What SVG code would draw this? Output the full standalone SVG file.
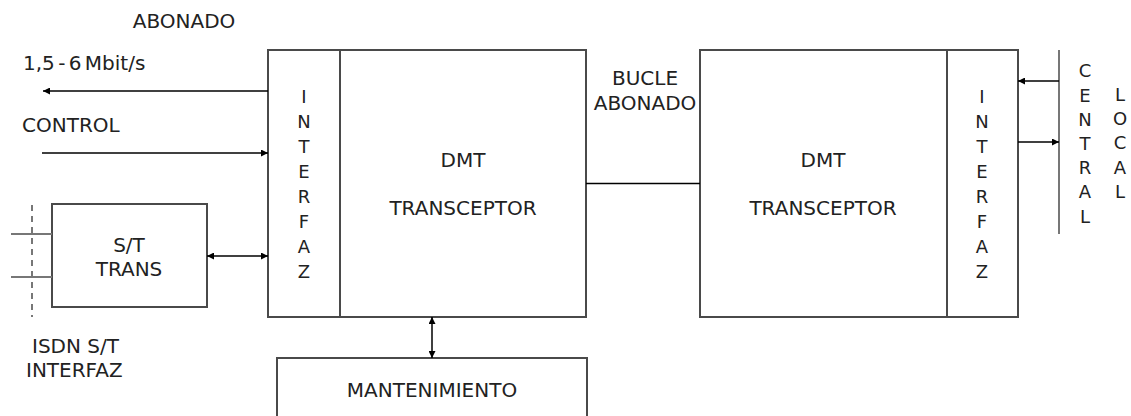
<svg xmlns="http://www.w3.org/2000/svg" width="1131" height="416" viewBox="0 0 1131 416">
<defs>
<marker id="ah" viewBox="0 0 10 10" refX="10" refY="5" markerWidth="9" markerHeight="7" markerUnits="userSpaceOnUse" orient="auto-start-reverse">
<path d="M0,0 L10,5 L0,10 z" fill="#000"/>
</marker>
<style>
text{font-family:"DejaVu Sans",Verdana,sans-serif;font-size:20px;fill:#222}
.c{text-anchor:middle}
.v{font-size:18px;text-anchor:middle}
.box{fill:#fff;stroke:#4a4a4a;stroke-width:2}
.ln{stroke:#000;stroke-width:1.5;fill:none}
.gl{stroke:#777;stroke-width:2;fill:none}
</style>
</defs>
<rect width="1131" height="416" fill="#fff"/>
<g id="labels">
<text x="184" y="28" class="c">ABONADO</text>
<text x="23" y="70" word-spacing="-3">1,5 - 6 Mbit/s</text>
<text x="22" y="132">CONTROL</text>
<text x="645" y="85" class="c">BUCLE</text>
<text x="645" y="110" class="c">ABONADO</text>
<text x="32" y="353">ISDN S/T</text>
<text x="26" y="377">INTERFAZ</text>
</g>
<g id="interfaz-left">
<rect class="box" x="268" y="50" width="72" height="267"/>
<text class="v" x="304" y="103">I</text>
<text class="v" x="304" y="128">N</text>
<text class="v" x="304" y="153">T</text>
<text class="v" x="304" y="178">E</text>
<text class="v" x="304" y="203">R</text>
<text class="v" x="304" y="228">F</text>
<text class="v" x="304" y="253">A</text>
<text class="v" x="304" y="278">Z</text>
</g>
<g id="dmt-left">
<rect class="box" x="340" y="50" width="246" height="267"/>
<text x="463" y="167" class="c">DMT</text>
<text x="463" y="215" class="c">TRANSCEPTOR</text>
</g>
<g id="dmt-right">
<rect class="box" x="700" y="50" width="247" height="267"/>
<text x="823" y="167" class="c">DMT</text>
<text x="823" y="215" class="c">TRANSCEPTOR</text>
</g>
<g id="interfaz-right">
<rect class="box" x="947" y="50" width="71" height="267"/>
<text class="v" x="982" y="103">I</text>
<text class="v" x="982" y="128">N</text>
<text class="v" x="982" y="153">T</text>
<text class="v" x="982" y="178">E</text>
<text class="v" x="982" y="203">R</text>
<text class="v" x="982" y="228">F</text>
<text class="v" x="982" y="253">A</text>
<text class="v" x="982" y="278">Z</text>
</g>
<g id="st-trans">
<rect class="box" x="52" y="204" width="155" height="103"/>
<text x="129" y="252" class="c">S/T</text>
<text x="129" y="276" class="c">TRANS</text>
</g>
<g id="mantenimiento">
<rect class="box" x="277" y="358" width="310" height="70"/>
<text x="432" y="397" class="c">MANTENIMIENTO</text>
</g>
<g id="central-local">
<line class="gl" x1="1059" y1="50" x2="1059" y2="234"/>
<text class="v" x="1085" y="77">C</text>
<text class="v" x="1085" y="101.5">E</text>
<text class="v" x="1085" y="125.5">N</text>
<text class="v" x="1085" y="149.5">T</text>
<text class="v" x="1085" y="173.5">R</text>
<text class="v" x="1085" y="198">A</text>
<text class="v" x="1085" y="222.5">L</text>
<text class="v" x="1120" y="101">L</text>
<text class="v" x="1120" y="125">O</text>
<text class="v" x="1120" y="149">C</text>
<text class="v" x="1120" y="173.5">A</text>
<text class="v" x="1120" y="198">L</text>
</g>
<g id="connectors">
<line class="ln" x1="268" y1="91" x2="43" y2="91" marker-end="url(#ah)"/>
<line class="ln" x1="42" y1="153" x2="268" y2="153" marker-end="url(#ah)"/>
<line class="ln" x1="207" y1="256" x2="268" y2="256" marker-start="url(#ah)" marker-end="url(#ah)"/>
<line class="ln" x1="432" y1="317" x2="432" y2="358" marker-start="url(#ah)" marker-end="url(#ah)"/>
<line class="ln" x1="586" y1="183.5" x2="700" y2="183.5"/>
<line class="ln" x1="1059" y1="81" x2="1018" y2="81" marker-end="url(#ah)"/>
<line class="ln" x1="1018" y1="142" x2="1059" y2="142" marker-end="url(#ah)"/>
<line class="gl" x1="32" y1="205" x2="32" y2="317" stroke-dasharray="6,5"/>
<line class="gl" x1="11" y1="234" x2="52" y2="234"/>
<line class="gl" x1="11" y1="277" x2="52" y2="277"/>
</g>
</svg>
